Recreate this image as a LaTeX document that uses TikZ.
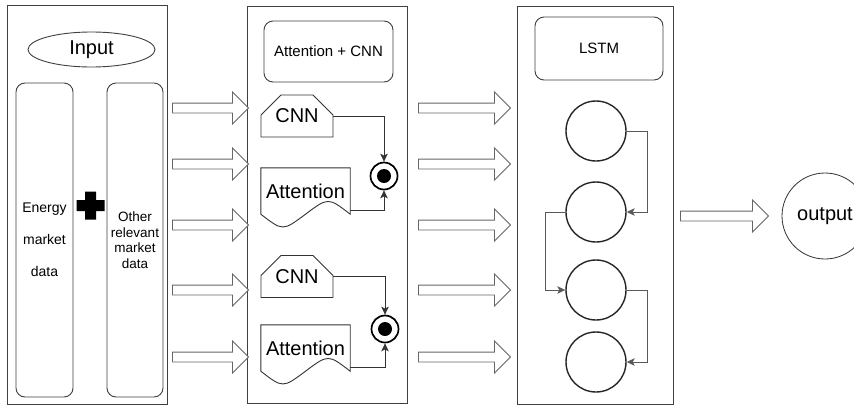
\documentclass[tikz,border=0pt]{standalone}
\usepackage{fontspec}
\setmainfont{Liberation Sans}
\usetikzlibrary{shapes.misc,shapes.arrows,shapes.geometric,arrows.meta}

\tikzset{
  frame/.style={draw=black!75, line width=0.9pt, inner sep=0pt},
  roundbox/.style={draw=black!75, line width=0.9pt, rounded corners=9pt,
    inner sep=0pt, align=center},
  fat/.style={single arrow, draw=black!60, fill=white, line width=0.9pt,
    inner xsep=0pt, inner ysep=4.5pt, single arrow head extend=11pt,
    single arrow tip angle=90, anchor=tail},
  cnnbox/.style={chamfered rectangle,
    chamfered rectangle corners={north west,north east},
    chamfered rectangle xsep=13pt, chamfered rectangle ysep=13pt,
    draw=black!80, line width=0.9pt, minimum width=72pt, minimum height=42pt,
    inner sep=0pt, font=\fontsize{20}{24}\selectfont},
  docbox/.style={inner sep=0pt, minimum width=89pt, minimum height=46pt,
    font=\fontsize{20}{24}\selectfont},
  docline/.style={draw=black!80, line width=0.9pt},
  dotring/.style={circle, draw=black, line width=1.7pt, minimum size=27pt,
    inner sep=0pt},
  dotcore/.style={circle, fill=black, minimum size=14pt, inner sep=0pt},
  conn/.style={draw=black!80, line width=0.9pt,
    -{Stealth[length=8pt,width=7.5pt,inset=2pt]}},
  lstmcell/.style={circle, draw=black!85, line width=1.4pt,
    minimum size=60pt, inner sep=0pt},
  lstmconn/.style={draw=black!65, line width=0.9pt,
    -{Stealth[length=8pt,width=7.5pt,inset=2pt]}},
}

\begin{document}
\begin{tikzpicture}[x=1pt,y=-1pt]
\useasboundingbox (0,0) rectangle (854,410);
\fill[white] (0,0) rectangle (854,410);
\clip (0,0) rectangle (854,410);

% ---- input panel ----
\node[frame, minimum width=160pt, minimum height=399pt] (p1) at (87,204.5) {};
\node[ellipse, draw=black!75, line width=0.9pt, minimum width=127pt,
  minimum height=35pt, inner sep=0pt, font=\fontsize{20}{24}\selectfont]
  (inp) at (91.5,49.5) {Input};
\node[roundbox, minimum width=57pt, minimum height=314pt,
  font=\fontsize{14}{32}\selectfont] (energy) at (44.5,240)
  {Energy\\market\\data};
\node[roundbox, minimum width=56pt, minimum height=314pt,
  font=\fontsize{13.5}{15.5}\selectfont] (other) at (135,240)
  {Other\\relevant\\market\\data};
% plus sign between the two data columns
\fill[black] (85,191.5) -- (96,191.5) -- (96,200) -- (104.5,200) -- (104.5,211)
  -- (96,211) -- (96,219.5) -- (85,219.5) -- (85,211) -- (76.5,211)
  -- (76.5,200) -- (85,200) -- cycle;

% ---- attention + CNN panel ----
\node[frame, minimum width=160pt, minimum height=397pt] (p2) at (327,204.5) {};
\node[roundbox, minimum width=129pt, minimum height=61pt,
  font=\fontsize{15}{18}\selectfont] (acnn) at (328.5,51.5) {Attention + CNN};

\node[cnnbox] (cnn1) at (297,116) {CNN};
\node[docbox] (att1) at (305.5,191) {Attention};
\draw[docline] (att1.north west) -- (att1.north east) -- (att1.south east)
  .. controls ([xshift=-22pt,yshift=17pt]att1.south east) .. (att1.south)
  .. controls ([xshift=22pt,yshift=-17pt]att1.south west) .. (att1.south west)
  -- cycle;
\node[dotring] (d1) at (384,176) {};
\node[dotcore] (d1c) at (d1.center) {};
\draw[conn] (cnn1.east) -| (d1.north);
\draw[conn] ([yshift=4pt]att1.south east) -| (d1.south);

\node[cnnbox] (cnn2) at (297,276.5) {CNN};
\node[docbox] (att2) at (305.5,348) {Attention};
\draw[docline] (att2.north west) -- (att2.north east) -- (att2.south east)
  .. controls ([xshift=-22pt,yshift=17pt]att2.south east) .. (att2.south)
  .. controls ([xshift=22pt,yshift=-17pt]att2.south west) .. (att2.south west)
  -- cycle;
\node[dotring] (d2) at (385,329) {};
\node[dotcore] (d2c) at (d2.center) {};
\draw[conn] (cnn2.east) -| (d2.north);
\draw[conn] ([yshift=4pt]att2.south east) -| (d2.south);

% ---- LSTM panel ----
\node[frame, minimum width=156pt, minimum height=398pt] (p3) at (595,205) {};
\node[roundbox, minimum width=128pt, minimum height=63pt,
  font=\fontsize{15}{18}\selectfont] (lstm) at (599,48.5) {LSTM};
\node[lstmcell] (c1) at (596,131) {};
\node[lstmcell] (c2) at (596,212) {};
\node[lstmcell] (c3) at (596,290) {};
\node[lstmcell] (c4) at (596,362) {};
\draw[lstmconn] (c1.east) -- ++(21,0) |- (c2.east);
\draw[lstmconn] (c2.west) -- ++(-20,0) |- (c3.west);
\draw[lstmconn] (c3.east) -- ++(21,0) |- (c4.east);

% ---- output ----
\node[circle, draw=black!80, line width=0.8pt, minimum size=86pt, inner sep=0pt,
  font=\fontsize{20}{24}\selectfont] (out) at (825,216) {output};

% ---- hollow block arrows between the stages ----
\foreach \y [count=\i] in {108,164,225,290,357} {
  \node[fat, minimum height=76pt] (fa\i) at (172,\y) {};
  \node[fat, minimum height=92pt] (fb\i) at (418,\y) {};
}
\node[fat, minimum height=88pt] (fo) at (680,216) {};
\end{tikzpicture}
\end{document}
